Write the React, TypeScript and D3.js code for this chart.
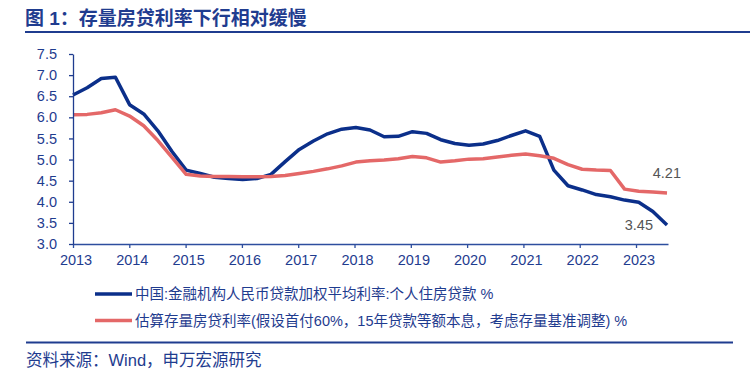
import React, { useEffect, useRef } from 'react';
import * as d3 from 'd3';

const WIDTH = 750;
const HEIGHT = 384;
const MARGIN = { top: 54, right: 82, bottom: 140, left: 73 };

const FONT = '"Liberation Sans", "Noto Sans CJK SC", sans-serif';
const NAVY = '#1f3c8f';

const TITLE = '图 1：存量房贷利率下行相对缓慢';
const SOURCE = '资料来源：Wind，申万宏源研究';
const SERIES_NAMES = [
    '中国:金融机构人民币贷款加权平均利率:个人住房贷款 %',
    '估算存量房贷利率(假设首付60%，15年贷款等额本息，考虑存量基准调整) %',
];
const SERIES_COLORS = ['#0b2f8a', '#e46868'];

const YEAR_TICKS = [2013, 2014, 2015, 2016, 2017, 2018, 2019, 2020, 2021, 2022, 2023];
const Y_TICKS = [3.0, 3.5, 4.0, 4.5, 5.0, 5.5, 6.0, 6.5, 7.0, 7.5];

// quarterly, 2013Q1 .. 2023Q3
const newLoanRate = [
    6.53, 6.70, 6.92, 6.95, 6.30, 6.08, 5.68, 5.19, 4.75, 4.67,
    4.58, 4.55, 4.53, 4.55, 4.65, 4.95, 5.24, 5.44, 5.61, 5.72,
    5.76, 5.70, 5.54, 5.55, 5.66, 5.62, 5.47, 5.38, 5.34, 5.37,
    5.45, 5.57, 5.68, 5.55, 4.75, 4.38, 4.28, 4.17, 4.12, 4.04,
    3.99, 3.77, 3.45,
];
const stockLoanRate = [
    6.06, 6.07, 6.11, 6.18, 6.03, 5.80, 5.45, 5.05, 4.65, 4.61,
    4.60, 4.60, 4.59, 4.59, 4.60, 4.62, 4.67, 4.72, 4.78, 4.85,
    4.94, 4.97, 4.99, 5.02, 5.07, 5.04, 4.94, 4.97, 5.01, 5.02,
    5.06, 5.10, 5.13, 5.09, 5.03, 4.88, 4.77, 4.75, 4.74, 4.30,
    4.25, 4.23, 4.21,
];
const END_LABELS = ['3.45', '4.21'];

const quarters = newLoanRate.map((_, i) => 2013 + i * 0.2512);

const App = () => {
    const xAxisRef = useRef(null);
    const yAxisRef = useRef(null);

    const chartLeft = MARGIN.left;
    const chartRight = WIDTH - MARGIN.right;
    const chartTop = MARGIN.top;
    const chartBottom = HEIGHT - MARGIN.bottom;

    const xScale = d3.scaleLinear().domain([2013, 2023.568]).range([chartLeft, chartRight]);
    const yScale = d3.scaleLinear().domain([3, 7.5]).range([chartBottom, chartTop]);

    const line = d3.line()
        .x((d, i) => xScale(quarters[i]))
        .y(d => yScale(d));

    const series = [newLoanRate, stockLoanRate];

    useEffect(() => {
        const xAxis = d3.axisBottom(xScale)
            .tickValues(YEAR_TICKS)
            .tickFormat(d3.format('d'))
            .tickSize(4)
            .tickSizeOuter(0)
            .tickPadding(7);
        const gx = d3.select(xAxisRef.current).call(xAxis);
        gx.select('.domain').attr('stroke', '#2d4e9e').attr('stroke-width', 1.3);
        gx.selectAll('.tick line').attr('stroke', '#2d4e9e').attr('stroke-width', 1.3);
        gx.selectAll('.tick text')
            .attr('fill', NAVY)
            .attr('dx', 2.5)
            .style('font-size', '14.5px')
            .style('font-family', FONT);

        const yAxis = d3.axisLeft(yScale)
            .tickValues(Y_TICKS)
            .tickFormat(d3.format('.1f'))
            .tickSize(4)
            .tickSizeOuter(0)
            .tickPadding(12);
        const gy = d3.select(yAxisRef.current).call(yAxis);
        gy.select('.domain').attr('stroke', '#1f3c8f').attr('stroke-width', 1.3);
        gy.selectAll('.tick line').attr('stroke', '#1f3c8f').attr('stroke-width', 1.3);
        gy.selectAll('.tick text')
            .attr('fill', NAVY)
            .style('font-size', '14.5px')
            .style('font-family', FONT);
    }, []);

    const lastIdx = quarters.length - 1;

    return (
        <svg width={WIDTH} height={HEIGHT} style={{ position: 'absolute', left: 0, top: 0, background: '#fff' }}>
            <text x={25} y={25} fill={NAVY} fontSize={19} fontWeight="bold" fontFamily={FONT}>{TITLE}</text>
            <line x1={25} x2={750} y1={32} y2={32} stroke={NAVY} strokeWidth={2} />

            <g>
                {series.map((s, i) =>
                    <path key={i} d={line(s)} fill="none" stroke={SERIES_COLORS[i]} strokeWidth={3.5} strokeLinejoin="round" />
                )}
            </g>
            <g ref={xAxisRef} transform={`translate(0, ${chartBottom})`} />
            <g ref={yAxisRef} transform={`translate(${chartLeft}, 0)`} />

            <text x={xScale(quarters[lastIdx]) - 14} y={yScale(newLoanRate[lastIdx])} dominantBaseline="central"
                textAnchor="end" fill="#555" fontSize={14.5} fontFamily={FONT}>{END_LABELS[0]}</text>
            <text x={xScale(quarters[lastIdx]) + 14} y={yScale(stockLoanRate[lastIdx]) - 20} dominantBaseline="central"
                textAnchor="end" fill="#555" fontSize={14.5} fontFamily={FONT}>{END_LABELS[1]}</text>

            {SERIES_NAMES.map((name, i) =>
                <g key={i} transform={`translate(95, ${294 + i * 26.5})`}>
                    <line x1={0} x2={37} y1={0} y2={0} stroke={SERIES_COLORS[i]} strokeWidth={3.5} />
                    <text x={40} y={0} dominantBaseline="central" fill={NAVY} fontSize={14.5} fontFamily={FONT}>{name}</text>
                </g>
            )}

            <line x1={26} x2={733} y1={342.5} y2={342.5} stroke={NAVY} strokeWidth={2} />
            <text x={26} y={360} dominantBaseline="central" fill={NAVY} fontSize={16.5} fontFamily={FONT}>{SOURCE}</text>
        </svg>
    );
};

export default App;
